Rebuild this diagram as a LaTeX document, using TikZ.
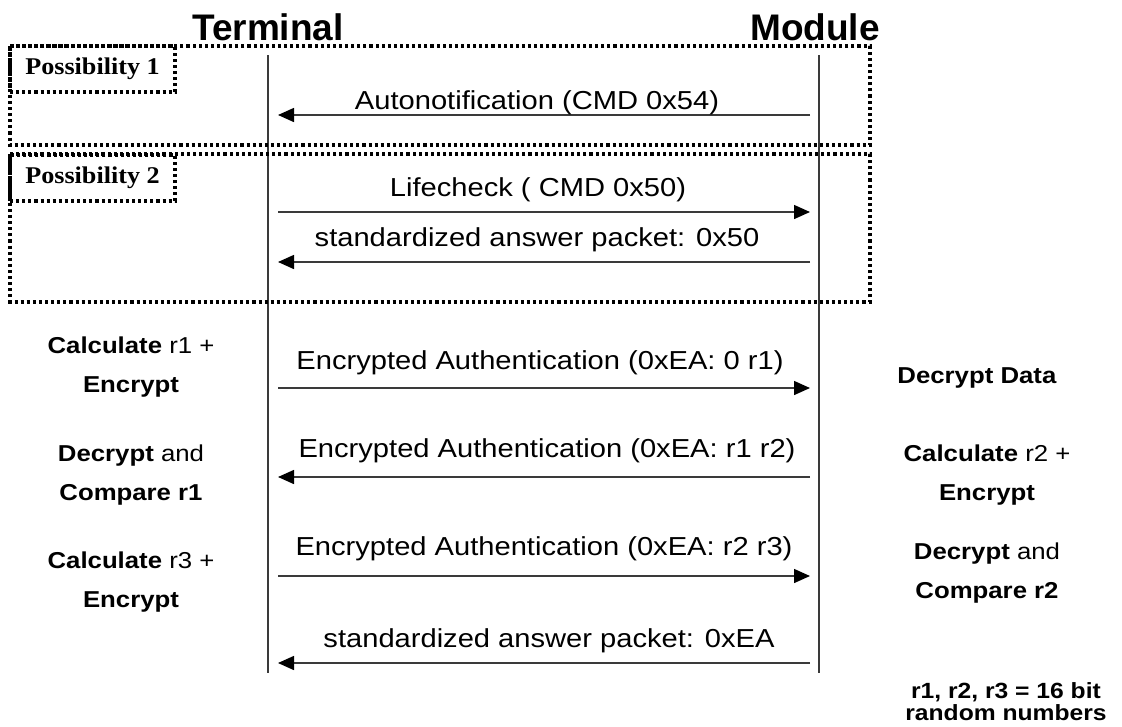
\documentclass[tikz,border=0pt]{standalone}
\usepackage{fontspec}
\usetikzlibrary{arrows.meta}
\setmainfont{Liberation Sans}
\newfontfamily\labfont[FakeStretch=1.12]{Liberation Sans}
\newfontfamily\possfont[FakeStretch=1.09]{Liberation Serif}
\definecolor{linegray}{HTML}{3A3A3A}
\tikzset{
  dotbox/.style={draw=black, line width=3.1pt, dash pattern=on 3.1pt off 3pt},
  lifeline/.style={draw=linegray, line width=1.6pt},
  msg/.style={draw=linegray, line width=1.5pt, -{Triangle[length=16pt,width=14pt,color=black]}},
  header/.style={font=\fontsize{37}{40}\selectfont\bfseries, anchor=base, inner sep=0pt},
  lbl/.style={font=\labfont\fontsize{26}{30}\selectfont, anchor=base, inner sep=0pt},
  side/.style={font=\labfont\fontsize{23}{39}\selectfont, align=center, anchor=base, inner sep=0pt},
  note/.style={font=\labfont\fontsize{22}{22}\selectfont\bfseries, align=center, anchor=base, inner sep=0pt},
  posslabel/.style={dotbox, font=\possfont\fontsize{24}{26}\selectfont\bfseries, minimum width=165pt, minimum height=46pt, inner sep=0pt},
}
\begin{document}
\begin{tikzpicture}[x=1pt,y=-1pt]
\useasboundingbox (0,0) rectangle (1122,726);

% headers
\node[header] (term) at (268,40) {Terminal};
\node[header] (mod) at (815,40) {Module};

% lifelines
\coordinate (Ttop) at (268,55);
\coordinate (Tbot) at (268,673);
\coordinate (Mtop) at (819,55);
\coordinate (Mbot) at (819,673);
\draw[lifeline] (Ttop) -- (Tbot);
\draw[lifeline] (Mtop) -- (Mbot);

% possibility boxes
\draw[dotbox] (10,46) rectangle (870,145);
\draw[dotbox] (10,154) rectangle (870,302);
\node[posslabel] (p1) at (92.5,69) {Possibility 1};
\node[posslabel] (p2) at (92.5,178) {Possibility 2};

% message end points
\coordinate (a1T) at (278,115); \coordinate (a1M) at (810,115);
\coordinate (a2T) at (278,212); \coordinate (a2M) at (810,212);
\coordinate (a3T) at (278,262); \coordinate (a3M) at (810,262);
\coordinate (a4T) at (278,388); \coordinate (a4M) at (810,388);
\coordinate (a5T) at (278,477); \coordinate (a5M) at (810,477);
\coordinate (a6T) at (278,576); \coordinate (a6M) at (810,576);
\coordinate (a7T) at (278,663); \coordinate (a7M) at (810,663);

\draw[msg] (a1M) -- (a1T);
\draw[msg] (a2T) -- (a2M);
\draw[msg] (a3M) -- (a3T);
\draw[msg] (a4T) -- (a4M);
\draw[msg] (a5M) -- (a5T);
\draw[msg] (a6T) -- (a6M);
\draw[msg] (a7M) -- (a7T);

% message labels
\node[lbl] (l1) at (537,109) {Autonotification (CMD 0x54)};
\node[lbl] (l2) at (538,196) {Lifecheck ( CMD 0x50)};
\node[lbl] (l3) at (537,246) {standardized answer packet: 0x50};
\node[lbl] (l4) at (540,369) {Encrypted Authentication (0xEA: 0 r1)};
\node[lbl] (l5) at (547,457) {Encrypted Authentication (0xEA: r1 r2)};
\node[lbl] (l6) at (544,555) {Encrypted Authentication (0xEA: r2 r3)};
\node[lbl] (l7) at (549,647) {standardized answer packet: 0xEA};

% terminal side actions (anchor = baseline of last line)
\node[side] (t1) at (131,392) {\textbf{Calculate} r1 +\\\textbf{Encrypt}};
\node[side] (t2) at (131,500) {\textbf{Decrypt} and\\\textbf{Compare r1}};
\node[side] (t3) at (131,607) {\textbf{Calculate} r3 +\\\textbf{Encrypt}};

% module side actions
\node[side] (m1) at (977,383) {\textbf{Decrypt Data}};
\node[side] (m2) at (987,500) {\textbf{Calculate} r2 +\\\textbf{Encrypt}};
\node[side] (m3) at (987,598) {\textbf{Decrypt} and\\\textbf{Compare r2}};

% note
\node[note] (n1) at (1006,720) {r1, r2, r3 = 16 bit\\random numbers};
\end{tikzpicture}
\end{document}
